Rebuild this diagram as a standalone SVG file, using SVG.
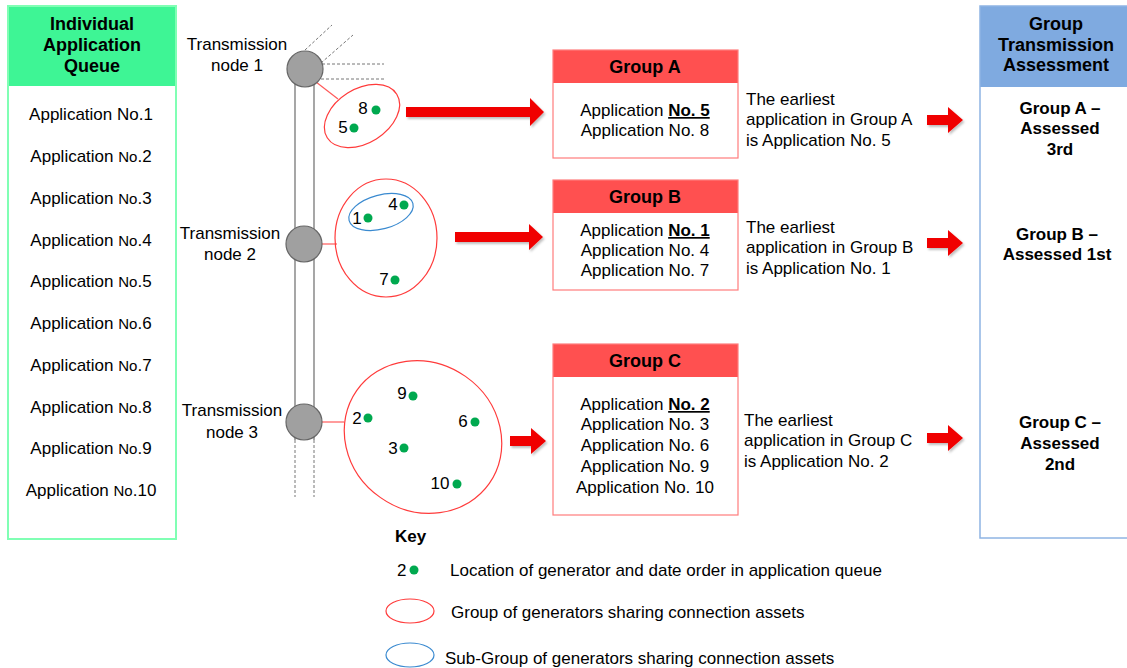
<svg xmlns="http://www.w3.org/2000/svg" width="1127" height="668" viewBox="0 0 1127 668">
<defs>
<style>
text{font-family:"Liberation Sans",Arial,sans-serif;font-size:17px;fill:#000}
.b{font-weight:bold;font-size:18px}
.bm{font-weight:bold;font-size:17px}
.c{text-anchor:middle}
.sm{font-size:15px}
.node{fill:#A0A0A0;stroke:#666;stroke-width:1.2}
.rail{stroke:#777;stroke-width:1.3;fill:none}
.dash{stroke:#777;stroke-width:1;stroke-dasharray:3,2;fill:none}
.grp{fill:none;stroke:#FF3B3B;stroke-width:1.2}
.sub{fill:none;stroke:#3A8AD0;stroke-width:1.2}
.dot{fill:#00A94F}
.arr{fill:#F00000}
.link{stroke:#FF5A5A;stroke-width:1.2}
</style>
<filter id="sh" x="-10%" y="-20%" width="130%" height="160%">
<feDropShadow dx="1.5" dy="2" stdDeviation="1" flood-color="#000" flood-opacity="0.25"/>
</filter>
</defs>
<rect width="1127" height="668" fill="#fff"/>

<g id="queue">
<rect x="8" y="6" width="168" height="80" fill="#3EF595"/>
<rect x="8" y="6" width="168" height="533" fill="none" stroke="#80FFB4" stroke-width="2"/>
<text class="b c" x="92" y="30">Individual</text>
<text class="b c" x="92" y="51">Application</text>
<text class="b c" x="92" y="72">Queue</text>
<text class="c" x="91" y="120">Application No.1</text>
<text class="c" x="91" y="162">Application <tspan class="sm">No</tspan>.2</text>
<text class="c" x="91" y="204">Application <tspan class="sm">No</tspan>.3</text>
<text class="c" x="91" y="246">Application <tspan class="sm">No</tspan>.4</text>
<text class="c" x="91" y="287">Application <tspan class="sm">No</tspan>.5</text>
<text class="c" x="91" y="329">Application <tspan class="sm">No</tspan>.6</text>
<text class="c" x="91" y="371">Application <tspan class="sm">No</tspan>.7</text>
<text class="c" x="91" y="413">Application <tspan class="sm">No</tspan>.8</text>
<text class="c" x="91" y="454">Application <tspan class="sm">No</tspan>.9</text>
<text class="c" x="91" y="496">Application <tspan class="sm">No</tspan>.10</text>
</g>

<g id="rails">
<line class="rail" x1="295" y1="80" x2="295" y2="440"/>
<line class="rail" x1="314" y1="80" x2="314" y2="440"/>
<line class="dash" x1="295" y1="440" x2="295" y2="497"/>
<line class="dash" x1="314" y1="440" x2="314" y2="497"/>
<line class="dash" x1="305" y1="50" x2="332" y2="25"/>
<line class="dash" x1="321" y1="63" x2="353" y2="35"/>
<line class="dash" x1="322" y1="64" x2="384" y2="64"/>
<line class="dash" x1="316" y1="79" x2="384" y2="79"/>
</g>

<g id="connectors">
<line class="link" x1="316" y1="82" x2="338" y2="99"/>
<line class="link" x1="322" y1="244" x2="337" y2="244"/>
<line class="link" x1="322" y1="422" x2="344" y2="422"/>
<g filter="url(#sh)">
<polygon class="arr" points="406,107 530,107 530,98 544,112 530,126 530,117 406,117"/>
<polygon class="arr" points="455,232 529,232 529,224 543,237 529,250 529,242 455,242"/>
<polygon class="arr" points="510,436 531,436 531,428 546,441 531,454 531,446 510,446"/>
<polygon class="arr" points="927,115 948,115 948,107 963,120 948,133 948,125 927,125"/>
<polygon class="arr" points="927,238 948,238 948,230 963,243 948,256 948,248 927,248"/>
<polygon class="arr" points="927,433 948,433 948,425 963,438 948,451 948,443 927,443"/>
</g>
</g>

<g id="node1">
<circle class="node" cx="305" cy="69" r="18"/>
<text class="c" x="237" y="50">Transmission</text>
<text class="c" x="237" y="71">node 1</text>
</g>
<g id="node2">
<circle class="node" cx="304" cy="244" r="18"/>
<text class="c" x="230" y="239">Transmission</text>
<text class="c" x="230" y="260">node 2</text>
</g>
<g id="node3">
<circle class="node" cx="304" cy="422" r="18"/>
<text class="c" x="232" y="416">Transmission</text>
<text class="c" x="232" y="438">node 3</text>
</g>

<g id="cluster-a">
<ellipse class="grp" cx="362" cy="116" rx="41" ry="27" transform="rotate(-32 362 116)"/>
<text class="c" x="363" y="114">8</text><circle class="dot" cx="376" cy="110" r="4.5"/>
<text class="c" x="343" y="133">5</text><circle class="dot" cx="354" cy="128" r="4.5"/>
</g>
<g id="cluster-b">
<ellipse class="grp" cx="386" cy="238" rx="51" ry="59"/>
<ellipse class="sub" cx="381" cy="212" rx="33" ry="17" transform="rotate(-15 381 212)"/>
<text class="c" x="357" y="224">1</text><circle class="dot" cx="368" cy="218" r="4.5"/>
<text class="c" x="393" y="210">4</text><circle class="dot" cx="404" cy="205" r="4.5"/>
<text class="c" x="384" y="285">7</text><circle class="dot" cx="395" cy="280" r="4.5"/>
</g>
<g id="cluster-c">
<ellipse class="grp" cx="423" cy="437" rx="81" ry="74" transform="rotate(35 423 437)"/>
<text class="c" x="402" y="399">9</text><circle class="dot" cx="413" cy="396" r="4.5"/>
<text class="c" x="357" y="424">2</text><circle class="dot" cx="368" cy="418" r="4.5"/>
<text class="c" x="463" y="427">6</text><circle class="dot" cx="475" cy="422" r="4.5"/>
<text class="c" x="393" y="454">3</text><circle class="dot" cx="404" cy="448" r="4.5"/>
<text class="c" x="440" y="489">10</text><circle class="dot" cx="457" cy="484" r="4.5"/>
</g>

<g id="group-a">
<rect x="553" y="50" width="185" height="33" fill="#FF5050"/>
<rect x="553" y="50" width="185" height="108" fill="none" stroke="#FF7C7C" stroke-width="1.2"/>
<text class="b c" x="645" y="73">Group A</text>
<text class="c" x="645" y="116">Application <tspan font-weight="bold" text-decoration="underline">No. 5</tspan></text>
<text class="c" x="645" y="136">Application No. 8</text>
<text x="746" y="105">The earliest</text>
<text x="746" y="125">application in Group A</text>
<text x="746" y="146">is Application No. 5</text>
</g>
<g id="group-b">
<rect x="553" y="180" width="185" height="33" fill="#FF5050"/>
<rect x="553" y="180" width="185" height="110" fill="none" stroke="#FF7C7C" stroke-width="1.2"/>
<text class="b c" x="645" y="203">Group B</text>
<text class="c" x="645" y="236">Application <tspan font-weight="bold" text-decoration="underline">No. 1</tspan></text>
<text class="c" x="645" y="256">Application No. 4</text>
<text class="c" x="645" y="276">Application No. 7</text>
<text x="746" y="233">The earliest</text>
<text x="746" y="253">application in Group B</text>
<text x="746" y="274">is Application No. 1</text>
</g>
<g id="group-c">
<rect x="553" y="344" width="185" height="33" fill="#FF5050"/>
<rect x="553" y="344" width="185" height="171" fill="none" stroke="#FF7C7C" stroke-width="1.2"/>
<text class="b c" x="645" y="367">Group C</text>
<text class="c" x="645" y="410">Application <tspan font-weight="bold" text-decoration="underline">No. 2</tspan></text>
<text class="c" x="645" y="430">Application No. 3</text>
<text class="c" x="645" y="451">Application No. 6</text>
<text class="c" x="645" y="472">Application No. 9</text>
<text class="c" x="645" y="493">Application No. 10</text>
<text x="744" y="426">The earliest</text>
<text x="744" y="446">application in Group C</text>
<text x="744" y="467">is Application No. 2</text>
</g>

<g id="assessment">
<rect x="980" y="6" width="147" height="81" fill="#7FAAE0"/>
<rect x="980" y="6" width="150" height="532" fill="none" stroke="#8FB4E3" stroke-width="1.5"/>
<text class="b c" x="1056" y="30">Group</text>
<text class="b c" x="1056" y="51">Transmission</text>
<text class="b c" x="1056" y="71">Assessment</text>
<text class="bm c" x="1060" y="114">Group A –</text>
<text class="bm c" x="1060" y="134">Assessed</text>
<text class="bm c" x="1060" y="155">3rd</text>
<text class="bm c" x="1057" y="240">Group B –</text>
<text class="bm c" x="1057" y="260">Assessed 1st</text>
<text class="bm c" x="1060" y="428">Group C –</text>
<text class="bm c" x="1060" y="449">Assessed</text>
<text class="bm c" x="1060" y="470">2nd</text>
</g>

<g id="key">
<text class="bm" x="395" y="542">Key</text>
<text x="397" y="576">2</text><circle class="dot" cx="414" cy="570" r="4.5"/>
<text x="450" y="576">Location of generator and date order in application queue</text>
<ellipse class="grp" cx="410" cy="611" rx="24" ry="12"/>
<text x="451" y="618">Group of generators sharing connection assets</text>
<ellipse class="sub" cx="410" cy="655" rx="24" ry="12"/>
<text x="445" y="664">Sub-Group of generators sharing connection assets</text>
</g>
</svg>
